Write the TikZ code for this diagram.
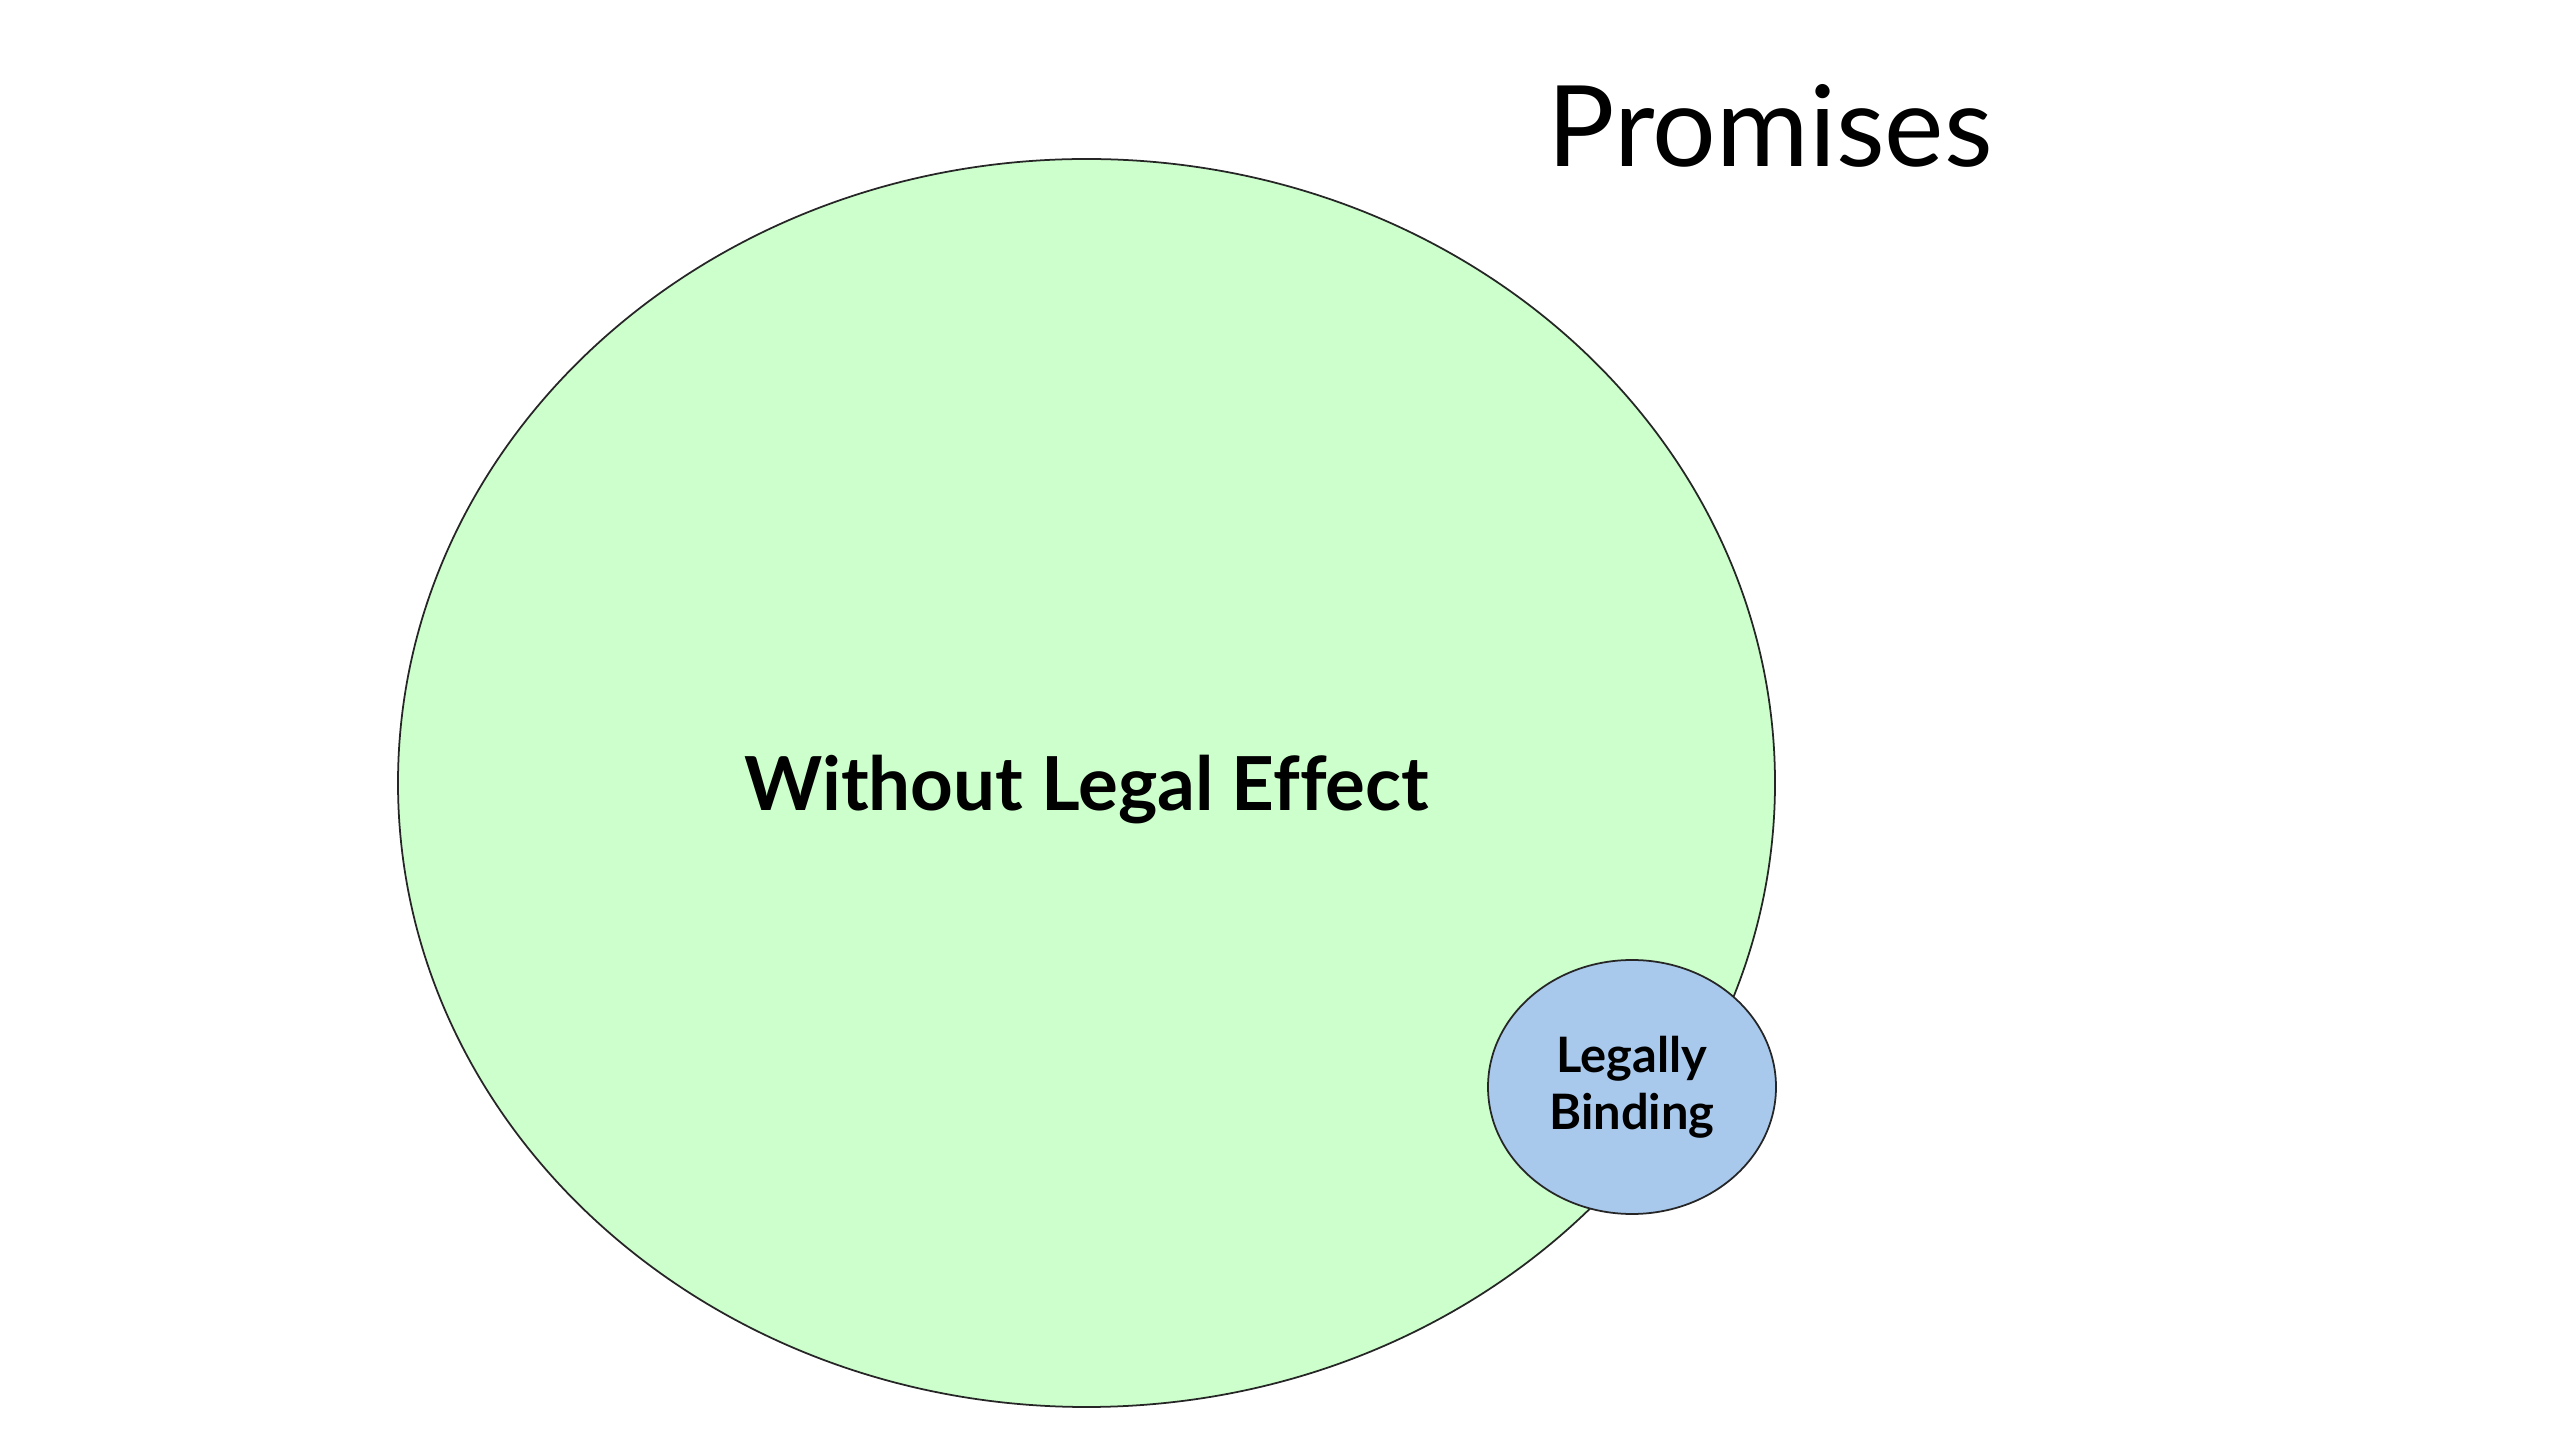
\documentclass[tikz,border=0pt]{standalone}
\usepackage{fontspec}
\setmainfont[Ligatures=CommonOff]{Lato}
\usepackage{tikz}
\usetikzlibrary{shapes.geometric,positioning}
\definecolor{setgreen}{HTML}{CCFFCC}
\definecolor{setblue}{HTML}{A8C8EC}

\begin{document}
\begin{tikzpicture}[
    bigset/.style={ellipse, draw=black!85, line width=0.5pt, fill=setgreen, minimum width=13.77cm, minimum height=12.48cm, inner sep=0pt, outer sep=0pt, align=center, text depth=0pt, font=\fontsize{21.2}{25}\selectfont\bfseries},
    smallset/.style={ellipse, draw=black!85, line width=0.5pt, fill=setblue, minimum width=2.88cm, minimum height=2.54cm, inner sep=0pt, outer sep=0pt, align=center, font=\fontsize{13.9}{16.2}\selectfont\bfseries},
    title/.style={anchor=base, inner sep=0pt, font=\fontsize{32}{38}\selectfont},
]
\useasboundingbox (0,0) rectangle (25.6,14.4);
\node[bigset] (nolegal) at (10.865,6.57) {Without Legal Effect};
\node[smallset] (binding) at (16.32,3.53) {Legally\\Binding};
\node[title] (promises) at (17.70,12.73) {Promises};
\end{tikzpicture}
\end{document}
